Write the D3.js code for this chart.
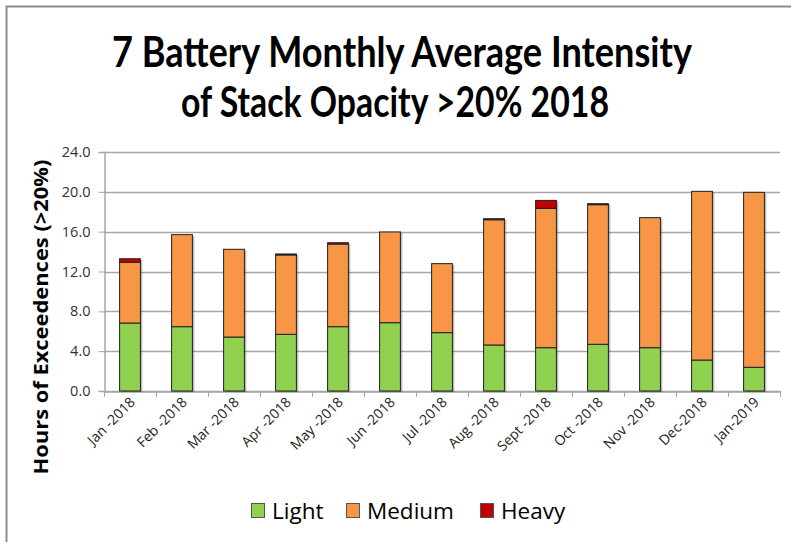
<!DOCTYPE html>
<html><head><meta charset="utf-8">
<script src="https://cdn.jsdelivr.net/npm/d3@7"></script>
<style>body{margin:0;background:#fff;} svg{display:block;}</style>
</head><body><svg id="c" width="791" height="542"></svg>
<script>
const categories = ["Jan -2018","Feb -2018","Mar -2018","Apr -2018","May -2018","Jun -2018","Jul -2018","Aug -2018","Sept -2018","Oct -2018","Nov -2018","Dec-2018","Jan-2019"];
const light  = [6.83, 6.46, 5.42, 5.69, 6.46, 6.86, 5.86, 4.62, 4.35, 4.69, 4.35, 3.11, 2.38];
const medium = [6.10, 9.24, 8.81, 7.97, 8.30, 9.11, 6.93, 12.58, 13.99, 14.02, 13.06, 16.94, 17.57];
const heavy  = [0.35, 0.00, 0.00, 0.10, 0.13, 0.00, 0.00, 0.10, 0.80, 0.10, 0.00, 0.00, 0.00];
const seriesNames = ["Light","Medium","Heavy"];
const colors = ["#92D050","#F79646","#C00000"];
const yTicks = [0,4,8,12,16,20,24];

const svg = d3.select("#c");
const font = "'Open Sans', sans-serif";

// border
svg.append("path").attr("d","M6.5,542 L6.5,6.5 L791,6.5").attr("fill","none").attr("stroke","#8c8c8c").attr("stroke-width",2);

const x = d3.scaleBand().domain(categories).range([104,780]).paddingInner(0.6).paddingOuter(0.3);
const xb = d3.scaleBand().domain(categories).range([104,780]);
const y = d3.scaleLinear().domain([0,24]).range([391,152]);

// gridlines
svg.append("g").selectAll("line").data(yTicks).join("line")
  .attr("x1",104).attr("x2",780).attr("y1",d=>Math.round(y(d))+0.5).attr("y2",d=>Math.round(y(d))+0.5)
  .attr("stroke","#a6a6a6").attr("stroke-width",1.5);

// y axis
const yAxis = svg.append("g").attr("transform","translate(104.5,0)")
  .call(d3.axisLeft(y).tickValues(yTicks).tickFormat(d3.format(".1f")).tickSize(6).tickPadding(8));
yAxis.select(".domain").attr("stroke","#a6a6a6").attr("stroke-width",1.5);
yAxis.selectAll(".tick line").attr("stroke","#a6a6a6");
yAxis.selectAll("text").attr("font-family",font).attr("font-size",14.5).attr("fill","#333");

// x axis
const xAxis = svg.append("g").attr("transform","translate(0,391.5)")
  .call(d3.axisBottom(xb).tickSize(0).tickFormat(""));
xAxis.select(".domain").attr("stroke","#a6a6a6").attr("stroke-width",1.5);
svg.append("g").selectAll("line").data(d3.range(categories.length+1)).join("line")
  .attr("x1",i=>Math.round(104 + i*xb.step())+0.5).attr("x2",i=>Math.round(104 + i*xb.step())+0.5)
  .attr("y1",391).attr("y2",397).attr("stroke","#a6a6a6").attr("stroke-width",1);
svg.append("g").selectAll("text").data(categories).join("text")
  .attr("transform",d=>`translate(${xb(d)+xb.bandwidth()/2+6},${403}) rotate(-45)`)
  .attr("text-anchor","end").attr("font-family",font).attr("font-size",14).attr("fill","#222")
  .text(d=>d);

// stacked data
const rows = categories.map((c,i)=>({cat:c, Light:light[i], Medium:medium[i], Heavy:heavy[i]}));
const stack = d3.stack().keys(seriesNames)(rows);

// shadows
svg.append("g").selectAll("rect").data(rows).join("rect")
  .attr("x",d=>x(d.cat)+2).attr("width",x.bandwidth())
  .attr("y",d=>y(d.Light+d.Medium+d.Heavy)+1).attr("height",d=>y(0)-y(d.Light+d.Medium+d.Heavy))
  .attr("fill","#000").attr("opacity",0.25);

stack.forEach((s,si)=>{
  svg.append("g").selectAll("rect").data(s.filter(d=>d[1]-d[0]>0)).join("rect")
    .attr("x",d=>x(d.data.cat)).attr("width",x.bandwidth())
    .attr("y",d=>y(d[1])).attr("height",d=>y(d[0])-y(d[1]))
    .attr("fill",colors[si]).attr("stroke","#222").attr("stroke-width",1);
});

// title
const t = svg.append("g").attr("font-family","Lato, 'Open Sans', sans-serif").attr("font-weight","bold").attr("fill","#000");
t.append("text").attr("x",402).attr("y",67).attr("text-anchor","middle").attr("font-size",42)
  .attr("textLength",580).attr("lengthAdjust","spacingAndGlyphs").text("7 Battery Monthly Average Intensity");
t.append("text").attr("x",395).attr("y",117).attr("text-anchor","middle").attr("font-size",42)
  .attr("textLength",428).attr("lengthAdjust","spacingAndGlyphs").text("of Stack Opacity >20% 2018");

// y label
svg.append("text").attr("transform","translate(48,317) rotate(-90)").attr("text-anchor","middle")
  .attr("font-family",font).attr("font-weight","bold").attr("font-size",20)
  .attr("textLength",315).attr("lengthAdjust","spacingAndGlyphs")
  .text("Hours of Exceedences (>20%)");

// legend
const legX = [251,346,480];
const lg = svg.append("g");
seriesNames.forEach((n,i)=>{
  lg.append("rect").attr("x",legX[i]+0.5).attr("y",503.5).attr("width",13).attr("height",14)
    .attr("fill",colors[i]).attr("stroke","#555").attr("stroke-width",1);
  lg.append("text").attr("x",legX[i]+21).attr("y",519).attr("font-family",font).attr("font-size",22.5)
    .attr("fill","#000").text(n);
});
</script></body></html>
